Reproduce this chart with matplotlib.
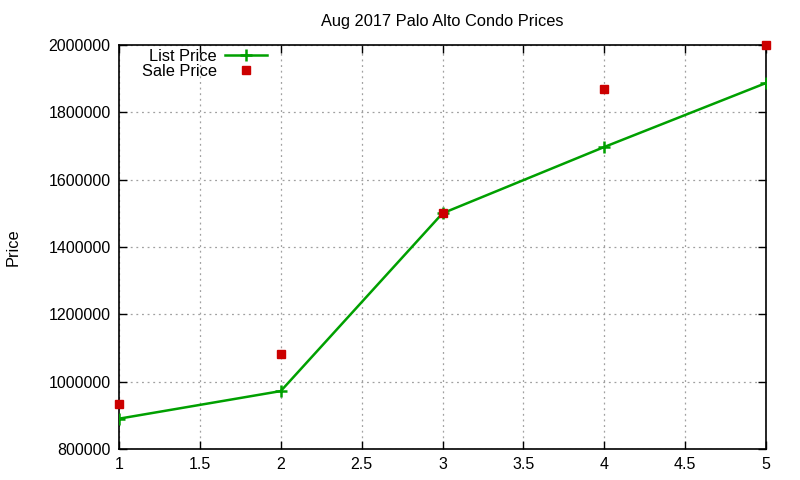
import matplotlib
matplotlib.use("Agg")
import matplotlib.pyplot as plt
from matplotlib.ticker import MultipleLocator, FuncFormatter

plt.rcParams['font.family'] = ['Liberation Sans', 'DejaVu Sans']

# data
bedrooms = [1, 2, 3, 4, 5]
list_price = [890000, 972000, 1500000, 1697000, 1887000]
sale_price = [933000, 1083000, 1500000, 1870000, 2000000]

fig = plt.figure(figsize=(8, 4.8), dpi=100)
ax = fig.add_axes([0.14875, 0.0646, 0.80875, 0.8417])

ax.plot(bedrooms, list_price, color='#00a000', linewidth=1.8, marker='+',
        markersize=8, markeredgewidth=1.8, label='List Price', zorder=3)
ax.plot(bedrooms, sale_price, linestyle='none', marker='s', color='#cc0000',
        markersize=6, label='Sale Price', zorder=4, clip_on=False)

ax.set_xlim(1, 5)
ax.set_ylim(800000, 2000000)
ax.xaxis.set_major_locator(MultipleLocator(0.5))
ax.yaxis.set_major_locator(MultipleLocator(200000))
ax.xaxis.set_major_formatter(FuncFormatter(lambda v, p: f"{v:g}"))
ax.yaxis.set_major_formatter(FuncFormatter(lambda v, p: f"{int(v)}"))

ax.tick_params(direction='in', length=6, width=1, top=True, right=True,
               labelsize=11.5, pad=6)
ax.grid(True, linestyle=(0, (1.5, 3)), color='#a0a0a0', linewidth=0.9)
for s in ax.spines.values():
    s.set_linewidth(1.2)

ax.set_title('Aug 2017 Palo Alto Condo Prices', fontsize=11.8, pad=14)
ax.set_ylabel('Price', fontsize=11.8, labelpad=20)

leg = ax.legend(loc='upper left', bbox_to_anchor=(0.012, 1.026), frameon=False,
                markerfirst=False, fontsize=11.8, handlelength=2.6,
                labelspacing=0.0, handletextpad=0.5)

fig.savefig('out.png', dpi=100)
